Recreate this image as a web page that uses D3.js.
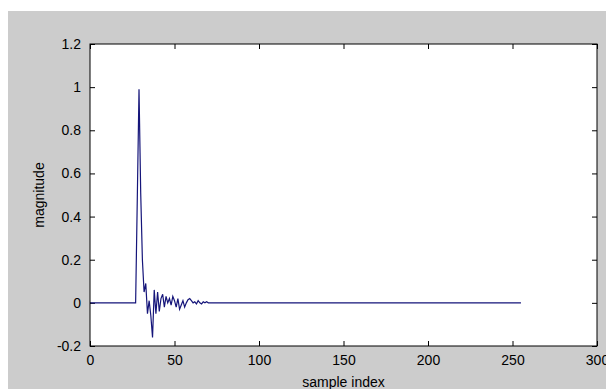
<!DOCTYPE html>
<html lang="en">
<head>
<meta charset="UTF-8">
<title>Impulse response</title>
<style>
  body { margin: 0; background: #fff; }
  svg text { font-family: "Liberation Sans", Arial, sans-serif; font-size: 14px; fill: #000; }
</style>
</head>
<body>
<svg id="chart" width="606" height="389"></svg>
<script src="https://cdn.jsdelivr.net/npm/d3@7/dist/d3.min.js"></script>
<script>
// magnitude for sample index 0.. ; everything after the listed samples is 0
var leadZeros = 28;
var burst = [0.49, 0.99, 0.51, 0.20, 0.05, 0.09, -0.05, 0.01, -0.06, -0.16,
             0.06, -0.05, 0.05, -0.04, 0.02, 0.04, -0.02, 0.03, 0.00, 0.02,
             -0.01, 0.03, 0.01, -0.02, 0.02, -0.03, -0.01, 0.01, -0.02, 0.00,
             0.015, 0.02, 0.01, 0.00, 0.005, -0.005, 0.01, 0.00, -0.005, 0.005,
             0.00, 0.005, 0.00];
var sampleCount = 256;
var xTicks = [0, 50, 100, 150, 200, 250, 300];
var yTicks = [-0.2, 0, 0.2, 0.4, 0.6, 0.8, 1, 1.2];

var values = [];
for (var i = 0; i < sampleCount; i++) {
  var k = i - leadZeros;
  values.push({x: i, y: (k >= 0 && k < burst.length) ? burst[k] : 0});
}

var svg = d3.select("#chart");
var margin = {top: 44, right: 9, bottom: 43, left: 90};
var width = 606 - margin.left - margin.right;
var height = 389 - margin.top - margin.bottom;

// figure background
svg.append("rect")
  .attr("x", 8).attr("y", 11)
  .attr("width", 598).attr("height", 378)
  .attr("fill", "#cccccc");

var g = svg.append("g")
  .attr("transform", "translate(" + margin.left + "," + margin.top + ")");

var x = d3.scaleLinear().domain([0, 300]).range([0, width]);
var y = d3.scaleLinear().domain([-0.2, 1.2]).range([height, 0]);

g.append("rect")
  .attr("width", width).attr("height", height)
  .attr("fill", "#fff");

var fmt = function(d) { return String(+d.toFixed(1)); };

g.append("g")
  .attr("transform", "translate(0," + height + ")")
  .call(d3.axisBottom(x).tickValues(xTicks).tickFormat(fmt).tickSizeInner(-5).tickSizeOuter(0).tickPadding(9));
g.append("g")
  .call(d3.axisTop(x).tickValues(xTicks).tickFormat("").tickSizeInner(-5).tickSizeOuter(0));
g.append("g")
  .call(d3.axisLeft(y).tickValues(yTicks).tickFormat(fmt).tickSizeInner(-5).tickSizeOuter(0).tickPadding(9));
g.append("g")
  .attr("transform", "translate(" + width + ",0)")
  .call(d3.axisRight(y).tickValues(yTicks).tickFormat("").tickSizeInner(-5).tickSizeOuter(0));

g.selectAll(".domain").remove();
g.selectAll(".tick line").attr("stroke", "#000");
g.selectAll(".tick text").style("font-size", "14px").style("font-family", "Liberation Sans, Arial, sans-serif");

var line = d3.line()
  .x(function(d) { return x(d.x); })
  .y(function(d) { return y(d.y); });

g.append("path")
  .datum(values)
  .attr("fill", "none")
  .attr("stroke", "#15157a")
  .attr("stroke-width", 1.2)
  .attr("d", line);

g.append("rect")
  .attr("width", width).attr("height", height)
  .attr("fill", "none")
  .attr("stroke", "#000")
  .attr("stroke-width", 1);

g.append("text")
  .attr("x", width / 2)
  .attr("y", height + 41)
  .attr("text-anchor", "middle")
  .text("sample index");

g.append("text")
  .attr("transform", "rotate(-90)")
  .attr("x", -height / 2)
  .attr("y", -46)
  .attr("text-anchor", "middle")
  .text("magnitude");
</script>
</body>
</html>
